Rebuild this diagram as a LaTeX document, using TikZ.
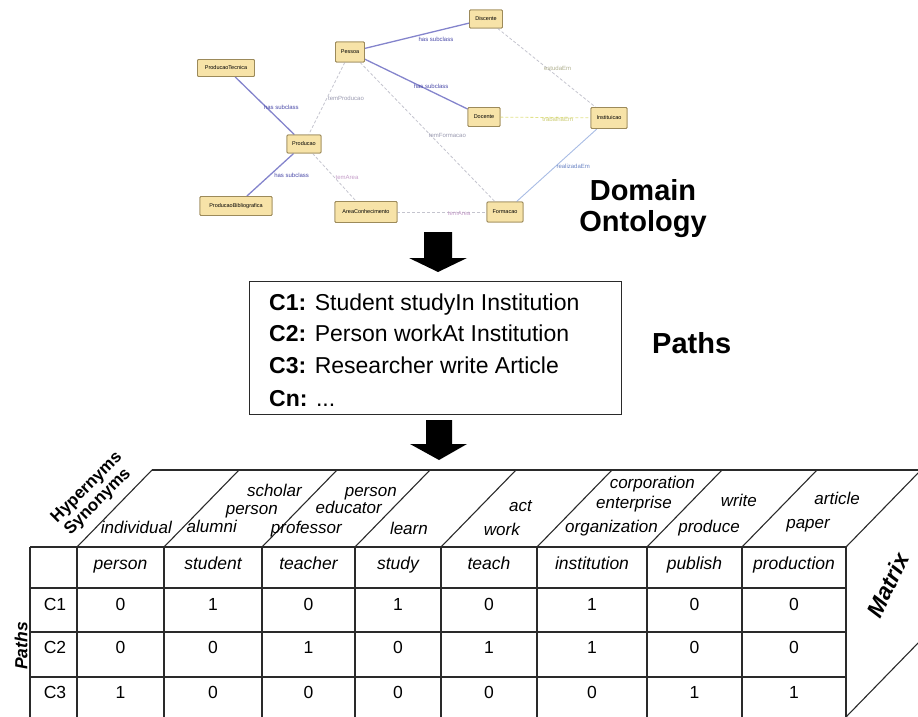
\documentclass[tikz,border=0pt]{standalone}
\usepackage{fontspec}
\setmainfont{Liberation Sans}
\definecolor{nodefill}{HTML}{F7E3A8}
\definecolor{nodeborder}{HTML}{9C8A5A}
\definecolor{subblue}{HTML}{8484CC}
\definecolor{lblblue}{HTML}{4A4AA8}
\definecolor{relgrey}{HTML}{C4C4CE}
\definecolor{lblgrey}{HTML}{9A9AB0}
\definecolor{lblpink}{HTML}{C49CC8}
\definecolor{relyellow}{HTML}{E2E28A}
\definecolor{lblyellow}{HTML}{CACA70}
\definecolor{rellblue}{HTML}{A8BCE4}
\definecolor{lbllblue}{HTML}{6A84C4}
\definecolor{tabline}{HTML}{2A2A2A}
\begin{document}
\begin{tikzpicture}[x=1pt,y=-1pt,
  onode/.style={draw=nodeborder, fill=nodefill, line width=0.9pt, rounded corners=1pt,
    inner sep=1pt, font=\fontsize{5.5}{6}\selectfont, minimum height=18pt},
  subedge/.style={draw=subblue, line width=1.3pt},
  reledge/.style={draw=relgrey, dash pattern=on 3pt off 2pt, line width=0.8pt},
  elbl/.style={inner sep=1pt, font=\fontsize{6}{7}\selectfont},
  tline/.style={draw=tabline, line width=1.1pt},
  hdr/.style={font=\fontsize{17}{19}\selectfont\itshape, inner sep=0pt, anchor=base east},
  colhead/.style={font=\fontsize{17.5}{19}\selectfont\itshape, inner sep=0pt, anchor=base},
  cell/.style={font=\fontsize{17.5}{19}\selectfont, inner sep=0pt, anchor=base},
  pathline/.style={font=\fontsize{23}{26}\selectfont, inner sep=0pt, anchor=base west},
  biglbl/.style={font=\fontsize{29}{31}\selectfont\bfseries, inner sep=0pt},
  blockarrow/.style={fill=black}
]
\useasboundingbox (0,0) rectangle (918,717);
\clip (0,0) rectangle (918,717);

% ---------------- ontology ----------------
\node[onode, minimum width=29pt, minimum height=20pt] (pessoa) at (350,52) {Pessoa};
\node[onode, minimum width=33pt] (discente) at (486,19) {Discente};
\node[onode, minimum width=57pt, minimum height=17pt] (prodtec) at (226,68) {ProducaoTecnica};
\node[onode, minimum width=34pt] (producao) at (304,144) {Producao};
\node[onode, minimum width=72pt, minimum height=19pt] (prodbib) at (236,206) {ProducaoBibliografica};
\node[onode, minimum width=62pt, minimum height=21pt] (area) at (366,212) {AreaConhecimento};
\node[onode, minimum width=32pt, minimum height=19pt] (docente) at (484,117) {Docente};
\node[onode, minimum width=36pt, minimum height=21pt] (inst) at (609,118) {Instituicao};
\node[onode, minimum width=36pt, minimum height=20pt] (formacao) at (505,212) {Formacao};

\draw[subedge] (pessoa) -- node[elbl, text=lblblue, pos=0.5, anchor=north west] {has subclass} (discente);
\draw[subedge] (pessoa) -- node[elbl, text=lblblue, pos=0.46, anchor=north west] {has subclass} (docente);
\draw[subedge] (prodtec) -- node[elbl, text=lblblue, pos=0.46, anchor=west, yshift=-4pt] {has subclass} (producao);
\draw[subedge] (producao) -- node[elbl, text=lblblue, pos=0.45, anchor=west, yshift=-3pt] {has subclass} (prodbib);
\draw[reledge] (pessoa) -- node[elbl, text=lblgrey, pos=0.5, anchor=west] {temProducao} (producao);
\draw[reledge] (pessoa) -- node[elbl, text=lblgrey, pos=0.5, anchor=north west] {temFormacao} (formacao);
\draw[reledge] (producao) -- node[elbl, text=lblpink, pos=0.5, anchor=west] {temArea} (area);
\draw[reledge] (area) -- node[elbl, text=lblpink, pos=0.55, anchor=north west, yshift=2pt] {temArea} (formacao);
\draw[reledge] (discente) -- node[elbl, text=lblgrey!80!yellow, pos=0.46, anchor=north west] {estudaEm} (inst);
\draw[reledge, draw=relyellow] (docente) -- node[elbl, text=lblyellow, pos=0.45, anchor=west, yshift=-2pt] {trabalhaEm} (inst);
\draw[draw=rellblue, line width=0.9pt] (inst) -- node[elbl, text=lbllblue, pos=0.52, anchor=west] {realizadaEm} (formacao);
% redraw nodes on top of edges
\node[onode, minimum width=29pt, minimum height=20pt] at (pessoa) {Pessoa};
\node[onode, minimum width=33pt] at (discente) {Discente};
\node[onode, minimum width=57pt, minimum height=17pt] at (prodtec) {ProducaoTecnica};
\node[onode, minimum width=34pt] at (producao) {Producao};
\node[onode, minimum width=72pt, minimum height=19pt] at (prodbib) {ProducaoBibliografica};
\node[onode, minimum width=62pt, minimum height=21pt] at (area) {AreaConhecimento};
\node[onode, minimum width=32pt, minimum height=19pt] at (docente) {Docente};
\node[onode, minimum width=36pt, minimum height=21pt] at (inst) {Instituicao};
\node[onode, minimum width=36pt, minimum height=20pt] at (formacao) {Formacao};

\node[biglbl, anchor=base] (dom) at (643,200) {Domain};
\node[biglbl, anchor=base] (ont) at (643,231) {Ontology};

% ---------------- arrows ----------------
\fill[blockarrow] (424,232) -- (452,232) -- (452,258) -- (467,258) -- (438,272) -- (409,258) -- (424,258) -- cycle;
\fill[blockarrow] (426,420) -- (452,420) -- (452,444) -- (467,444) -- (439,460) -- (410,444) -- (426,444) -- cycle;

% ---------------- paths box ----------------
\node[draw=tabline, line width=1.1pt, minimum width=372pt, minimum height=133pt, anchor=north west, inner sep=0pt] (pbox) at (249,281) {};
\node[pathline] (c1) at (269,310) {\textbf{C1:} Student studyIn Institution};
\node[pathline] (c2) at (269,341) {\textbf{C2:} Person workAt Institution};
\node[pathline] (c3) at (269,373) {\textbf{C3:} Researcher write Article};
\node[pathline] (cn) at (269,406) {\textbf{Cn:} ...};
\node[biglbl, anchor=base west] (pathslbl) at (652,353) {Paths};

% ---------------- matrix ----------------
\foreach \y in {547,588,632,677} \draw[tline] (30,\y) -- (846,\y);
\foreach \x in {30,77,164,262,355,441,537,647,742,846} \draw[tline] (\x,547) -- (\x,720);
\foreach \x in {77,164,262,355,441,537,647,742,846} \draw[tline] (\x,547) -- ++(75,-77);
\draw[tline] (152,470) -- (925,470);
\draw[tline] (846,717) -- ++(75,-77);

% top face words
\node[hdr] at (172,533) {individual};
\node[hdr] at (302,496) {scholar};
\node[hdr] at (278,514) {person};
\node[hdr] at (237,532) {alumni};
\node[hdr] at (397,496) {person};
\node[hdr] at (382,513) {educator};
\node[hdr] at (342,533) {professor};
\node[hdr] at (428,534) {learn};
\node[hdr] at (532,511) {act};
\node[hdr] at (520,535) {work};
\node[hdr] at (695,488) {corporation};
\node[hdr] at (672,508) {enterprise};
\node[hdr] at (658,532) {organization};
\node[hdr] at (757,506) {write};
\node[hdr] at (740,532) {produce};
\node[hdr] at (860,504) {article};
\node[hdr] at (830,528) {paper};

\node[font=\fontsize{17}{19}\selectfont\bfseries, rotate=45, inner sep=0pt] (hyp) at (87,488) {Hypernyms};
\node[font=\fontsize{17}{19}\selectfont\bfseries, rotate=45, inner sep=0pt] (syn) at (98,502) {Synonyms};

% column heads
\foreach \x/\t in {120.5/person,213/student,308.5/teacher,398/study,489/teach,592/institution,694.5/publish,794/production}
  \node[colhead] at (\x,569) {\t};

% rows
\node[cell] at (55,610) {C1};
\node[cell] at (55,653) {C2};
\node[cell] at (55,698) {C3};
\foreach \x/\a/\b/\c in {120.5/0/0/1,213/1/0/0,308.5/0/1/0,398/1/0/0,489/0/1/0,592/1/1/0,694.5/0/0/1,794/0/0/1}{
  \node[cell] at (\x,610) {\a};
  \node[cell] at (\x,653) {\b};
  \node[cell] at (\x,698) {\c};
}

\node[font=\fontsize{17.5}{19}\selectfont\bfseries\itshape, rotate=90, inner sep=0pt] (pathsv) at (21,646) {Paths};
\node[font=\fontsize{23}{25}\selectfont\bfseries\itshape, rotate=64, inner sep=0pt] (matrixlbl) at (888,585) {Matrix};
\end{tikzpicture}
\end{document}
